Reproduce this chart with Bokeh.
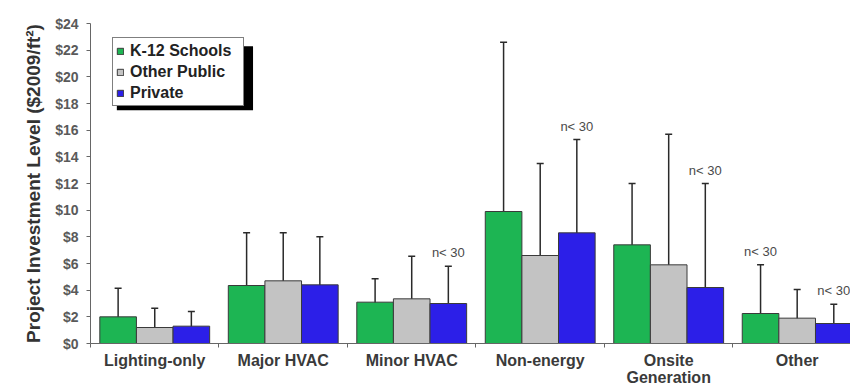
from bokeh.plotting import figure
from bokeh.models import (ColumnDataSource, Range1d, FixedTicker, Whisker, TeeHead,
                          Legend, LegendItem, NumeralTickFormatter)
from bokeh.core.properties import value
from bokeh.embed import file_html
from bokeh.resources import INLINE

# ---------------- data ----------------
categories = ["Lighting-only", "Major HVAC", "Minor HVAC", "Non-energy", "Onsite\nGeneration", "Other"]
series_names = ["K-12 Schools", "Other Public", "Private"]

k12 = [2.0, 4.35, 3.1, 9.9, 7.4, 2.25]
k12_lo = [1.1, 2.5, 1.95, 4.85, 4.05, 1.15]
k12_hi = [4.15, 8.3, 4.85, 22.6, 12.0, 5.9]

pub = [1.2, 4.7, 3.35, 6.6, 5.9, 1.9]
pub_lo = [0.65, 2.45, 1.6, 3.6, 2.6, 1.1]
pub_hi = [2.65, 8.3, 6.55, 13.5, 15.7, 4.05]

priv = [1.3, 4.4, 3.0, 8.3, 4.2, 1.5]
priv_lo = [0.65, 2.0, 1.5, 1.4, 1.0, 1.1]
priv_hi = [2.4, 8.0, 5.8, 15.3, 12.0, 2.95]

# small-sample flags (n < 30) per series
k12_small = [False, False, False, False, False, True]
pub_small = [False, False, False, False, False, False]
priv_small = [False, False, True, True, True, True]

y_ticks = [0, 2, 4, 6, 8, 10, 12, 14, 16, 18, 20, 22, 24]

# ---------------- styling ----------------
colors = ["#1db553", "#c3c3c3", "#2c1fe8"]
offsets = [-0.285, 0.0, 0.285]
bar_w = 0.285

p = figure(width=850, height=388, output_backend="svg", toolbar_location=None,
           x_range=Range1d(0, 5.915), y_range=Range1d(0, 24),
           min_border_left=90, min_border_right=0, min_border_top=23, min_border_bottom=0)
p.outline_line_color = None
p.grid.grid_line_color = None
p.background_fill_color = "white"

all_series = [
    (k12, k12_lo, k12_hi, k12_small),
    (pub, pub_lo, pub_hi, pub_small),
    (priv, priv_lo, priv_hi, priv_small),
]

# legend shadow (decoration)
p.quad(left=[0.205], right=[1.265], bottom=[17.5], top=[22.3],
       fill_color="black", line_color=None)

renderers = []
for (vals, lo, hi, small), col, off in zip(all_series, colors, offsets):
    xs = [i + 0.5 + off for i in range(len(categories))]
    src = ColumnDataSource(dict(x=xs, top=vals, lo=lo, hi=hi))
    r = p.vbar(x="x", top="top", width=bar_w, source=src,
               fill_color=col, line_color="#3a3a3a", line_width=1)
    renderers.append(r)
    w = Whisker(source=src, base="x", upper="hi", lower="lo",
                line_color="#2a2a2a", line_width=1.5,
                upper_head=TeeHead(size=7, line_color="#2a2a2a", line_width=1.5),
                lower_head=TeeHead(size=7, line_color="#2a2a2a", line_width=1.5))
    p.add_layout(w)
    lx = [x for x, s in zip(xs, small) if s]
    ly = [h for h, s in zip(hi, small) if s]
    if lx:
        p.text(x=lx, y=ly, text=["n< 30"] * len(lx), y_offset=-6,
               text_align="center", text_baseline="bottom",
               text_font=value("Liberation Sans"), text_font_size="13px",
               text_color="#4a4a4a")

legend = Legend(items=[LegendItem(label=n, renderers=[r]) for n, r in zip(series_names, renderers)],
                location=(22, 237))
legend.label_text_font = "Liberation Sans"
legend.label_text_font_style = "bold"
legend.label_text_font_size = "16px"
legend.label_text_color = "#222222"
legend.glyph_width = 8
legend.glyph_height = 8
legend.label_height = 19
legend.label_width = 110
legend.label_standoff = 6
legend.spacing = 2
legend.padding = 3
legend.margin = 0
legend.border_line_color = "black"
legend.border_line_width = 1
legend.background_fill_color = "white"
legend.background_fill_alpha = 1
p.add_layout(legend)

# x axis: labels at category centres, small ticks at boundaries
xa = p.xaxis[0]
xa.ticker = FixedTicker(ticks=[i + 0.5 for i in range(len(categories))],
                        minor_ticks=list(range(len(categories) + 1)))
xa.major_label_overrides = {i + 0.5: c for i, c in enumerate(categories)}
xa.major_tick_out = 0
xa.major_tick_in = 0
xa.minor_tick_out = 4
xa.minor_tick_in = 0
xa.axis_line_color = "#666666"
xa.minor_tick_line_color = "#666666"
xa.major_label_text_font = "Liberation Sans"
xa.major_label_text_font_style = "bold"
xa.major_label_text_font_size = "16px"
xa.major_label_text_line_height = 1.0
xa.major_label_text_color = "#3a3a3a"
xa.major_label_standoff = 4

ya = p.yaxis[0]
ya.ticker = FixedTicker(ticks=y_ticks, minor_ticks=[])
ya.formatter = NumeralTickFormatter(format="$0")
ya.major_tick_out = 4
ya.major_tick_in = 0
ya.axis_line_color = "#666666"
ya.major_tick_line_color = "#666666"
ya.major_label_text_font = "Liberation Sans"
ya.major_label_text_font_style = "bold"
ya.major_label_text_font_size = "14px"
ya.major_label_text_color = "#5a5a5a"
ya.major_label_standoff = 8
ya.axis_label = "Project Investment Level ($2009/ft²)"
ya.axis_label_text_font = "Liberation Sans"
ya.axis_label_text_font_style = "bold"
ya.axis_label_text_font_size = "19px"
ya.axis_label_text_color = "#333333"
ya.axis_label_standoff = 8

open("out.html", "w").write(file_html(p, INLINE))
